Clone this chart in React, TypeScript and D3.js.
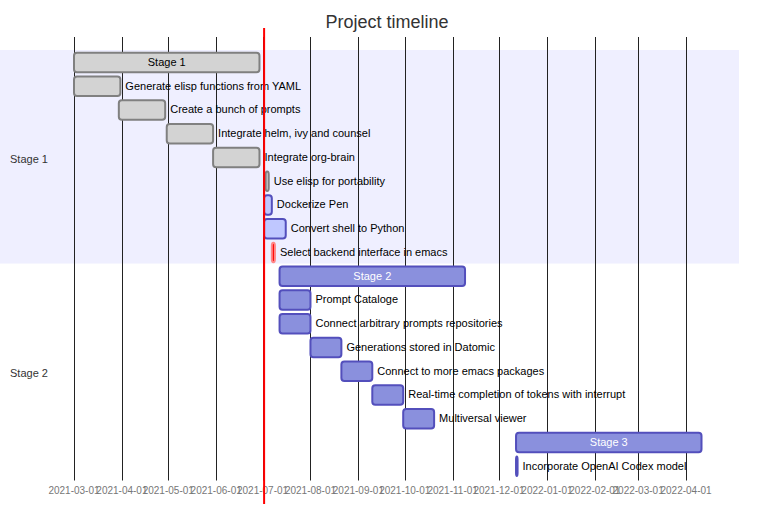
import * as d3 from 'd3';
import { useEffect, useRef } from 'react';

const sections = ['Stage 1', 'Stage 2'];

// name, start, end, kind (done / active / crit / normal), section index
const taskNames = [
  'Stage 1',
  'Generate elisp functions from YAML',
  'Create a bunch of prompts',
  'Integrate helm, ivy and counsel',
  'Integrate org-brain',
  'Use elisp for portability',
  'Dockerize Pen',
  'Convert shell to Python',
  'Select backend interface in emacs',
  'Stage 2',
  'Prompt Cataloge',
  'Connect arbitrary prompts repositories',
  'Generations stored in Datomic',
  'Connect to more emacs packages',
  'Real-time completion of tokens with interrupt',
  'Multiversal viewer',
  'Stage 3',
  'Incorporate OpenAI Codex model',
];
const taskStarts = [
  '2021-03-01', '2021-03-01', '2021-03-30', '2021-04-30', '2021-05-30',
  '2021-07-03', '2021-07-02', '2021-07-02', '2021-07-07',
  '2021-07-12', '2021-07-12', '2021-07-12', '2021-08-01', '2021-08-21',
  '2021-09-10', '2021-09-30', '2021-12-12', '2021-12-12',
];
const taskEnds = [
  '2021-06-29', '2021-03-31', '2021-04-29', '2021-05-30', '2021-06-29',
  '2021-07-05', '2021-07-07', '2021-07-16', '2021-07-09',
  '2021-11-09', '2021-08-01', '2021-08-01', '2021-08-21', '2021-09-10',
  '2021-09-30', '2021-10-20', '2022-04-11', '2021-12-13',
];
const taskKinds = [
  'done', 'done', 'done', 'done', 'done', 'done', 'active', 'active', 'crit',
  'normal', 'normal', 'normal', 'normal', 'normal', 'normal', 'normal', 'normal', 'normal',
];
const taskSection = [0, 0, 0, 0, 0, 0, 0, 0, 0, 1, 1, 1, 1, 1, 1, 1, 1, 1];
const bigBars = ['Stage 1', 'Stage 2', 'Stage 3'];
const todayDate = '2021-07-02';

const fills = { done: '#d3d3d3', active: '#bfc7ff', crit: '#ff0000', normal: '#8a90dd' };
const strokes = { done: '#808080', active: '#534fbc', crit: '#ff8888', normal: '#534fbc' };

const App = () => {
  const chartRef = useRef(null);
  const width = 784;
  const height = 532;

  useEffect(() => {
    const svg = d3.select(chartRef.current);
    svg.selectAll('*').remove();
    const parse = d3.utcParse('%Y-%m-%d');
    const font = '"Liberation Sans", Arial, sans-serif';

    const top = 50;
    const rowStep = 23.75;
    const barH = 19.5;
    const rows = taskNames.length;

    const x = d3
      .scaleUtc()
      .domain([parse(taskStarts[0]), d3.max(taskEnds, (d) => parse(d))])
      .range([74, 701.5]);

    // section bands
    sections.forEach((s, i) => {
      const idx = taskSection.map((v, j) => (v === i ? j : -1)).filter((j) => j >= 0);
      const y0 = top + idx[0] * rowStep;
      const y1 = top + (idx[idx.length - 1] + 1) * rowStep;
      svg
        .append('rect')
        .attr('x', 0)
        .attr('y', y0)
        .attr('width', 739)
        .attr('height', y1 - y0)
        .style('fill', i === 0 ? 'rgba(102,102,255,0.1)' : '#ffffff');
      svg
        .append('text')
        .attr('x', 10)
        .attr('y', (y0 + y1) / 2 + 3.5)
        .attr('dominant-baseline', 'middle')
        .style('font-family', font)
        .style('font-size', '11px')
        .style('fill', '#333')
        .text(s);
    });

    // grid
    const gridBottom = top + rows * rowStep + 3;
    const ticks = x.ticks(d3.utcMonth.every(1));
    svg
      .selectAll('.grid')
      .data(ticks)
      .enter()
      .append('line')
      .attr('x1', (d) => Math.round(x(d)) + 0.5)
      .attr('x2', (d) => Math.round(x(d)) + 0.5)
      .attr('y1', 37)
      .attr('y2', gridBottom)
      .style('stroke', '#222')
      .style('stroke-width', 1);
    svg
      .selectAll('.tick-label')
      .data(ticks)
      .enter()
      .append('text')
      .attr('x', (d) => x(d))
      .attr('y', 494)
      .attr('text-anchor', 'middle')
      .style('font-family', font)
      .style('font-size', '10px')
      .style('fill', '#777')
      .text((d) => d3.utcFormat('%Y-%m-%d')(d));

    // bars
    taskNames.forEach((name, i) => {
      const x0 = x(parse(taskStarts[i]));
      const x1 = x(parse(taskEnds[i]));
      const yc = top + i * rowStep + rowStep / 2 + 0.6;
      const kind = taskKinds[i];
      svg
        .append('rect')
        .attr('x', x0)
        .attr('y', yc - barH / 2)
        .attr('width', Math.max(0.5, x1 - x0))
        .attr('height', barH)
        .attr('rx', 3)
        .attr('ry', 3)
        .style('fill', fills[kind])
        .style('stroke', strokes[kind])
        .style('stroke-width', 2);
      const inside = bigBars.includes(name);
      svg
        .append('text')
        .attr('x', inside ? (x0 + x1) / 2 : x1 + 5)
        .attr('y', yc + 0.5)
        .attr('dominant-baseline', 'middle')
        .attr('text-anchor', inside ? 'middle' : 'start')
        .style('font-family', font)
        .style('font-size', '11px')
        .style('fill', inside && kind === 'normal' ? '#fff' : '#000')
        .text(name);
    });

    // today marker
    const tx = x(parse(todayDate));
    svg
      .append('line')
      .attr('x1', tx)
      .attr('x2', tx)
      .attr('y1', 28)
      .attr('y2', 504)
      .style('stroke', 'red')
      .style('stroke-width', 2);

    svg
      .append('text')
      .attr('x', 387)
      .attr('y', 28)
      .attr('text-anchor', 'middle')
      .style('font-family', font)
      .style('font-size', '18px')
      .style('fill', '#333')
      .text('Project timeline');
  }, []);

  return (
    <svg
      ref={chartRef}
      width={width}
      height={height}
      style={{ position: 'absolute', left: 0, top: 0, background: '#fff' }}
    />
  );
};

export default App;
